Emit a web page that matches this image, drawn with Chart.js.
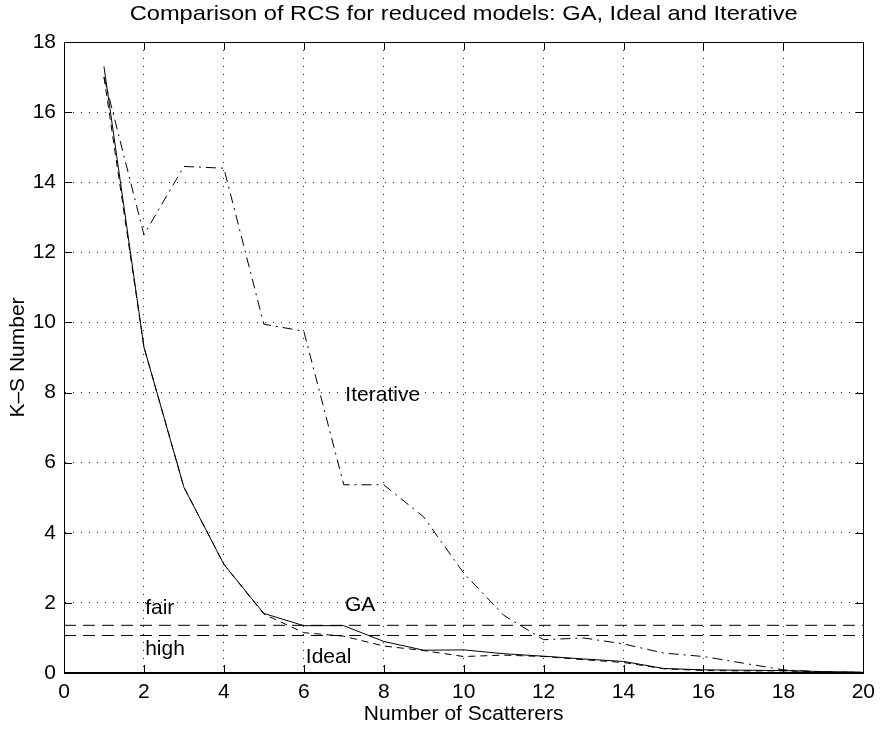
<!DOCTYPE html>
<html>
<head>
<meta charset="utf-8">
<title>Comparison of RCS for reduced models</title>
<script src="https://cdn.jsdelivr.net/npm/chart.js@4.4.0/dist/chart.umd.min.js"></script>
<style>
	html, body { margin: 0; padding: 0; background: #fff; }
	canvas { display: block; }
</style>
</head>
<body>
<canvas id="chart" width="882" height="729"></canvas>
<script>
'use strict';

// values
var scatterers = [1, 2, 3, 4, 5, 6, 7, 8, 9, 10, 11, 12, 13, 14, 15, 16, 17, 18, 19, 20];
var gaValues = [17.3, 9.3, 5.3, 3.1, 1.7, 1.35, 1.35, 0.9, 0.65, 0.66, 0.55, 0.48, 0.4, 0.33, 0.13, 0.09, 0.08, 0.07, 0.04, 0.02];
var idealValues = [17.0, 9.3, 5.3, 3.1, 1.68, 1.15, 1.05, 0.77, 0.64, 0.47, 0.51, 0.47, 0.38, 0.3, 0.12, 0.07, 0.06, 0.06, 0.03, 0.02];
var iterativeValues = [17.0, 12.5, 14.45, 14.4, 9.95, 9.75, 5.37, 5.37, 4.45, 2.85, 1.65, 0.95, 1.0, 0.83, 0.57, 0.47, 0.28, 0.09, 0.03, 0.02];
var fairLevel = 1.36;
var highLevel = 1.07;
var xTicks = [0, 2, 4, 6, 8, 10, 12, 14, 16, 18, 20];
var yTicks = [0, 2, 4, 6, 8, 10, 12, 14, 16, 18];
var titleText = 'Comparison of RCS for reduced models: GA, Ideal and Iterative';
var xTitle = 'Number of Scatterers';
var yTitle = 'K\u2013S Number';

var FONT = 'Liberation Sans, Arial, Helvetica, sans-serif';

function toPoints(values) {
	return values.map(function(v, i) {
		return {x: scatterers[i], y: v};
	});
}

function levelLine(level) {
	return [{x: xTicks[0], y: level}, {x: xTicks[xTicks.length - 1], y: level}];
}

function lineSet(label, data, dash) {
	return {
		label: label,
		data: data,
		borderColor: '#000',
		borderWidth: 1,
		borderDash: dash,
		pointRadius: 0,
		fill: false,
		tension: 0
	};
}

// text placed next to the curves, anchored in data units
var notes = [
	{text: 'Iterative', x: 7.04, y: 7.77},
	{text: 'GA', x: 7.03, y: 1.78},
	{text: 'Ideal', x: 6.05, y: 0.28},
	{text: 'fair', x: 2.03, y: 1.67},
	{text: 'high', x: 2.03, y: 0.51}
];

var matlabFrame = {
	id: 'matlabFrame',
	afterDraw: function(chart) {
		var ctx = chart.ctx;
		var a = chart.chartArea;
		var xs = chart.scales.x;
		var ys = chart.scales.y;
		var i, p, w;

		ctx.save();
		ctx.strokeStyle = '#000';
		ctx.lineWidth = 1;
		ctx.strokeRect(Math.round(a.left) + 0.5, Math.round(a.top) + 0.5,
			Math.round(a.right - a.left), Math.round(a.bottom - a.top) - 1);

		// inward tick marks on all four sides
		ctx.beginPath();
		for (i = 0; i < xTicks.length; i++) {
			p = Math.round(xs.getPixelForValue(xTicks[i])) + 0.5;
			ctx.moveTo(p, a.bottom);
			ctx.lineTo(p, a.bottom - 8);
			ctx.moveTo(p, a.top);
			ctx.lineTo(p, a.top + 8);
		}
		for (i = 0; i < yTicks.length; i++) {
			p = Math.round(ys.getPixelForValue(yTicks[i])) + 0.5;
			ctx.moveTo(a.left, p);
			ctx.lineTo(a.left + 8, p);
			ctx.moveTo(a.right, p);
			ctx.lineTo(a.right - 8, p);
		}
		ctx.stroke();

		ctx.fillStyle = '#000';
		ctx.font = '21px ' + FONT;
		ctx.textBaseline = 'alphabetic';
		ctx.textAlign = 'left';
		notes.forEach(function(n) {
			ctx.fillText(n.text, xs.getPixelForValue(n.x), ys.getPixelForValue(n.y));
		});

		// the title is set wider than the other text in the original
		ctx.textAlign = 'center';
		ctx.font = '21px ' + FONT;
		w = ctx.measureText(titleText).width;
		ctx.translate((a.left + a.right) / 2, 20);
		ctx.scale(668 / w, 1);
		ctx.fillText(titleText, 0, 0);
		ctx.restore();
	}
};

var ctx = document.getElementById('chart').getContext('2d');

var chart = new Chart(ctx, {
	type: 'line',
	data: {
		datasets: [
			lineSet('GA', toPoints(gaValues), []),
			lineSet('Ideal', toPoints(idealValues), [7, 5]),
			lineSet('Iterative', toPoints(iterativeValues), [10, 5, 2, 5]),
			lineSet('fair', levelLine(fairLevel), [12, 7]),
			lineSet('high', levelLine(highLevel), [12, 7])
		]
	},
	options: {
		animation: false,
		responsive: false,
		events: [],
		layout: {padding: {top: 42, right: 18, left: 0, bottom: 0}},
		plugins: {
			legend: {display: false},
			tooltip: {enabled: false},
			title: {display: false}
		},
		scales: {
			x: {
				type: 'linear',
				min: xTicks[0],
				max: xTicks[xTicks.length - 1],
				afterBuildTicks: function(scale) {
					scale.ticks = xTicks.map(function(v) { return {value: v}; });
				},
				afterFit: function(scale) {
					scale.height = 56;
				},
				grid: {color: '#222', lineWidth: 1, drawTicks: false},
				border: {display: true, color: '#000', dash: [1, 7]},
				ticks: {color: '#000', padding: 7, maxRotation: 0, font: {family: FONT, size: 21}},
				title: {display: true, text: xTitle, color: '#000', padding: {top: 0, bottom: 2}, font: {family: FONT, size: 21}}
			},
			y: {
				type: 'linear',
				min: yTicks[0],
				max: yTicks[yTicks.length - 1],
				afterBuildTicks: function(scale) {
					scale.ticks = yTicks.map(function(v) { return {value: v}; });
				},
				afterFit: function(scale) {
					scale.width = 64;
				},
				grid: {color: '#222', lineWidth: 1, drawTicks: false},
				border: {display: true, color: '#000', dash: [1, 7]},
				ticks: {color: '#000', padding: 8, font: {family: FONT, size: 21}},
				title: {display: true, text: yTitle, color: '#000', padding: {top: 6, bottom: 0}, font: {family: FONT, size: 21}}
			}
		}
	},
	plugins: [matlabFrame]
});
</script>
</body>
</html>
